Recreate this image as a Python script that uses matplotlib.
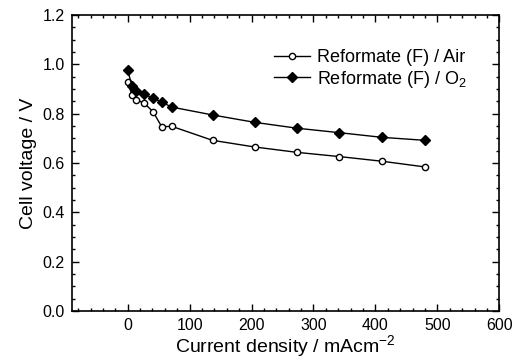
import matplotlib
matplotlib.use("Agg")
import matplotlib.pyplot as plt
from matplotlib.ticker import MultipleLocator

plt.rcParams['font.family'] = ['Liberation Sans', 'DejaVu Sans']
plt.rcParams['mathtext.fontset'] = 'custom'
plt.rcParams['mathtext.rm'] = 'Liberation Sans'
plt.rcParams['mathtext.it'] = 'Liberation Sans:italic'

# current density (mA/cm2) and cell voltage (V)
current = [0, 7, 14, 27, 41, 55, 71, 137, 205, 274, 342, 411, 480]
v_air = [0.93, 0.875, 0.857, 0.842, 0.808, 0.747, 0.749, 0.692, 0.665, 0.643, 0.626, 0.607, 0.584]
v_o2 = [0.977, 0.912, 0.893, 0.878, 0.863, 0.847, 0.827, 0.795, 0.765, 0.741, 0.723, 0.704, 0.692]


def main():
    fig = plt.figure(figsize=(5.25, 3.61), dpi=100)
    ax = fig.add_axes([0.137, 0.139, 0.814, 0.819])

    ax.plot(current, v_air, color='black', lw=1, marker='o', ms=4.5,
            mfc='white', mec='black', mew=1, label='Reformate (F) / Air')
    ax.plot(current, v_o2, color='black', lw=1, marker='D', ms=5.5,
            mfc='black', mec='black', label='Reformate (F) / O$_2$')

    ax.set_xlim(-90, 600)
    ax.set_ylim(0, 1.2)
    ax.xaxis.set_major_locator(MultipleLocator(100))
    ax.xaxis.set_minor_locator(MultipleLocator(20))
    ax.yaxis.set_major_locator(MultipleLocator(0.2))
    ax.yaxis.set_minor_locator(MultipleLocator(0.05))
    ax.yaxis.set_major_formatter(plt.FuncFormatter(lambda v, p: f"{v:.1f}"))
    ax.tick_params(which='both', direction='in', top=True, right=True,
                   labelsize=11.5, width=1)
    ax.tick_params(which='major', length=5, pad=5)
    ax.tick_params(which='minor', length=2.5)
    for s in ax.spines.values():
        s.set_linewidth(1.2)

    ax.set_xlabel("Current density / mAcm$^{-2}$", fontsize=14, labelpad=0)
    ax.set_ylabel("Cell voltage / V", fontsize=14, labelpad=4)

    ax.legend(loc='upper left', bbox_to_anchor=(0.455, 0.91), frameon=False,
              fontsize=13, handlelength=2.0, handletextpad=0.4,
              labelspacing=0.15, borderaxespad=0)

    fig.savefig("out.png", dpi=100)


if __name__ == "__main__":
    main()
